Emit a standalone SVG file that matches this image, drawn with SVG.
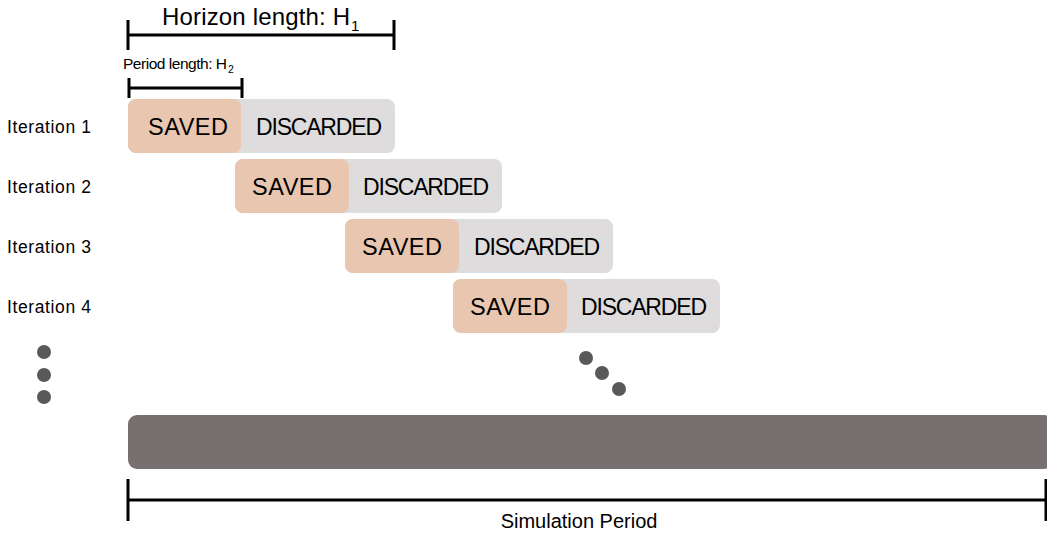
<svg xmlns="http://www.w3.org/2000/svg" width="1047" height="535" viewBox="0 0 1047 535">
<style>
text{font-family:"Liberation Sans",Arial,sans-serif;fill:#000}
.bar{stroke:#000;stroke-width:3;fill:none}
.saved{fill:#E9C6AF}
.disc{fill:#DEDCDC}
.lbl{font-size:17.5px}
.sv{font-size:23.5px;text-anchor:middle}
.dc{font-size:23px;text-anchor:middle}
.dot{fill:#595959}
</style>
<rect width="1047" height="535" fill="#fff"/>
<g id="horizon">
<path class="bar" d="M128 20V50M128 35H394M394 20V50"/>
<text x="162" y="25" font-size="24" textLength="188">Horizon length: H</text>
<text x="351" y="31" font-size="15">1</text>
</g>
<g id="period">
<path class="bar" d="M129 78V98M129 88H242M242 78V98"/>
<text x="123" y="69" font-size="15.5" textLength="104">Period length: H</text>
<text x="228" y="73" font-size="10.5">2</text>
</g>
<g id="iter1">
<text class="lbl" x="7" y="133" textLength="84">Iteration 1</text>
<rect class="disc" x="128" y="99" width="267" height="54" rx="8"/>
<rect class="saved" x="128" y="99" width="113" height="54" rx="8"/>
<text class="sv" x="188" y="135" textLength="80">SAVED</text>
<text class="dc" x="319" y="135" textLength="126">DISCARDED</text>
</g>
<g id="iter2">
<text class="lbl" x="7" y="193" textLength="84">Iteration 2</text>
<rect class="disc" x="235" y="159" width="267" height="54" rx="8"/>
<rect class="saved" x="235" y="159" width="114" height="54" rx="8"/>
<text class="sv" x="292" y="195" textLength="80">SAVED</text>
<text class="dc" x="426" y="195" textLength="126">DISCARDED</text>
</g>
<g id="iter3">
<text class="lbl" x="7" y="253" textLength="84">Iteration 3</text>
<rect class="disc" x="345" y="219" width="268" height="54" rx="8"/>
<rect class="saved" x="345" y="219" width="114" height="54" rx="8"/>
<text class="sv" x="402" y="255" textLength="80">SAVED</text>
<text class="dc" x="537" y="255" textLength="126">DISCARDED</text>
</g>
<g id="iter4">
<text class="lbl" x="7" y="313" textLength="84">Iteration 4</text>
<rect class="disc" x="453" y="279" width="267" height="54" rx="8"/>
<rect class="saved" x="453" y="279" width="114" height="54" rx="8"/>
<text class="sv" x="510" y="315" textLength="80">SAVED</text>
<text class="dc" x="644" y="315" textLength="126">DISCARDED</text>
</g>
<g id="dots">
<circle class="dot" cx="44" cy="352" r="7"/>
<circle class="dot" cx="44" cy="375" r="7"/>
<circle class="dot" cx="44" cy="397" r="7"/>
<circle class="dot" cx="586" cy="358" r="7"/>
<circle class="dot" cx="602" cy="373" r="7"/>
<circle class="dot" cx="619" cy="389" r="7"/>
</g>
<g id="simulation">
<rect x="128" y="415" width="925" height="54" rx="9" fill="#767170"/>
<path class="bar" d="M128 479V521M128 500H1046M1046 479V521"/>
<text x="579" y="528" font-size="20" text-anchor="middle">Simulation Period</text>
</g>
</svg>
